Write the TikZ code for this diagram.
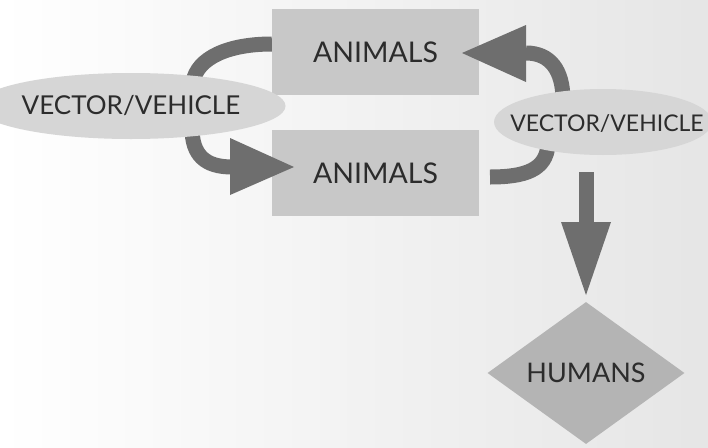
\documentclass[tikz,border=0pt]{standalone}
\usepackage{fontspec}
\setmainfont{Lato}
\usetikzlibrary{shapes.geometric,calc}
\definecolor{boxgray}{HTML}{C8C8C8}
\definecolor{ellgray}{HTML}{D6D6D6}
\definecolor{arrgray}{HTML}{6E6E6E}
\definecolor{diagray}{HTML}{B4B4B4}
\definecolor{txtgray}{HTML}{2C2C2C}
\tikzset{
  lbl/.style={text=txtgray, font=\fontsize{26}{26}\selectfont, inner sep=0pt},
  animbox/.style={lbl, font=\fontsize{28.5}{28.5}\selectfont, rectangle, fill=boxgray, minimum width=207pt, minimum height=86pt},
  vecell/.style={lbl, ellipse, fill=ellgray, inner sep=0pt},
  humdia/.style={lbl, font=\fontsize{27}{27}\selectfont, diamond, fill=diagray, minimum width=197pt, minimum height=142pt},
  shaft/.style={draw=arrgray, line width=15pt},
  head/.style={fill=arrgray}
}
\begin{document}
\begin{tikzpicture}[x=1pt,y=-1pt]
\useasboundingbox (0,0) rectangle (708,447);
\clip (0,0) rectangle (708,447);
\shade[left color=white, right color=gray!20] (0,0) rectangle (708,447);

% boxes
\node[animbox] (an1) at (375.5,52) {ANIMALS};
\node[animbox] (an2) at (375.5,173) {ANIMALS};

% connector coordinates
\coordinate (l1s) at (an1.west |- 0,44);
\coordinate (l1e) at (193,82);
\coordinate (l2s) at (192,128);
\coordinate (l2e) at (232,167);
\coordinate (l2t) at (294,167);
\coordinate (r1s) at (563,100);
\coordinate (r1e) at (526,53);
\coordinate (r1t) at (462,53);
\coordinate (r2s) at (548,145);
\coordinate (r2e) at (490,177);
\coordinate (dns) at (586,172);
\coordinate (dne) at (586,222);
\coordinate (dnt) at (586,295);

% curved connectors (behind ellipses)
\draw[shaft] (l1s) .. controls (228,44) and (197,58) .. (l1e);
\draw[shaft] (l2s) .. controls (192,155) and (205,167) .. (l2e);
\fill[head] ($(l2e)+(-2,-29)$) -- (l2t) -- ($(l2e)+(-2,28)$) -- cycle;
\draw[shaft] (r1s) .. controls (563,70) and (550,53) .. (r1e);
\fill[head] ($(r1e)+(0,-28)$) -- (r1t) -- ($(r1e)+(0,29)$) -- cycle;
\draw[shaft] (r2s) .. controls (546,170) and (525,177) .. (r2e);
\draw[shaft] (dns) -- (dne);
\fill[head] ($(dne)+(-25,0)$) -- (dnt) -- ($(dne)+(25,0)$) -- cycle;

% ellipses
\node[vecell, minimum width=252pt, minimum height=66pt] (vv1) at (131,106) {VECTOR/VEHICLE};
\node[vecell, minimum width=218pt, minimum height=66pt] (vv2) at (603,122) {};
\node[lbl, font=\fontsize{23}{23}\selectfont] (vv2t) at (607,124) {VECTOR/VEHICLE};

% humans
\node[humdia] (hum) at (586,373) {HUMANS};
\end{tikzpicture}
\end{document}
